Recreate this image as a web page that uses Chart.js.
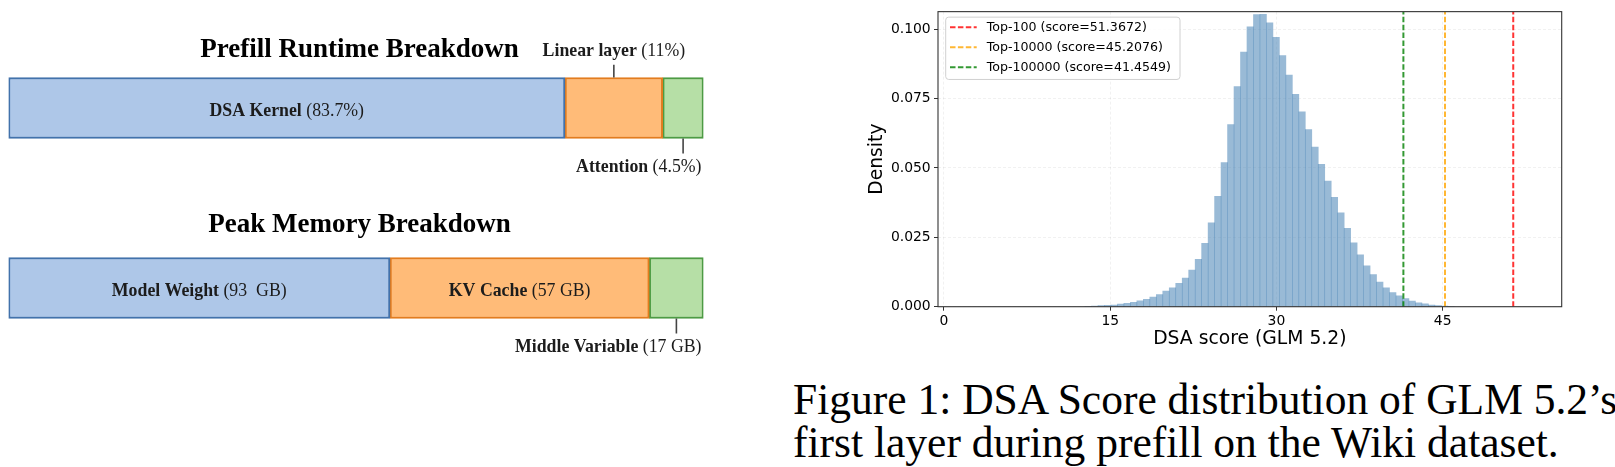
<!DOCTYPE html>
<html><head><meta charset="utf-8">
<script src="https://cdn.jsdelivr.net/npm/chart.js@4.4.1/dist/chart.umd.min.js"></script>
<style>
html,body{margin:0;padding:0;background:#fff;width:1615px;height:467px;overflow:hidden;}
#left{position:absolute;left:0;top:0;}
#hist{position:absolute;left:840px;top:0;}
#caption{position:absolute;left:793px;top:378px;font-family:"Liberation Serif","Times New Roman",serif;font-size:43.5px;line-height:43px;color:#000;white-space:nowrap;}
</style></head><body>
<canvas id="left" width="720" height="380" style="width:720px;height:380px"></canvas>
<canvas id="hist" width="760" height="360" style="width:760px;height:360px"></canvas>
<div id="caption">Figure 1: DSA Score distribution of GLM 5.2’s<br>first layer during prefill on the Wiki dataset.</div>
<script>
// ================= DATA =================
// Left: breakdown bars
const breakdownTitles = ['Prefill Runtime Breakdown', 'Peak Memory Breakdown'];
const breakdownRows = ['Prefill Runtime', 'Peak Memory'];
const segmentNames = [['DSA Kernel', 'Linear layer', 'Attention'], ['Model Weight', 'KV Cache', 'Middle Variable']];
const segmentValueText = [['(83.7%)', '(11%)', '(4.5%)'], ['(93  GB)', '(57 GB)', '(17 GB)']];
// share of each bar as drawn (% of bar length)
const firstSegShare = [80.07, 54.89];
const secondSegShare = [14.06, 37.31];
const thirdSegShare = [5.87, 7.80];

// Right: histogram of DSA scores
const binStart = 12.73;
const binWidth = 0.5845;
const density = [
  0.0001, 0.0002, 0.00037, 0.00048, 0.0006, 0.0009, 0.0012, 0.0016, 0.0021, 0.0027,
  0.0035, 0.0044, 0.0056, 0.0068, 0.0084, 0.0103, 0.0132, 0.0171, 0.0228, 0.0302,
  0.0398, 0.0519, 0.0656, 0.0793, 0.0917, 0.1008, 0.1052, 0.1053, 0.1023, 0.0970,
  0.0905, 0.0834, 0.0765, 0.0702, 0.0638, 0.0575, 0.0513, 0.0453, 0.0394, 0.0338,
  0.0282, 0.0230, 0.0187, 0.0147, 0.0116, 0.0089, 0.0068, 0.0051, 0.0039, 0.0029,
  0.0020, 0.0014, 0.0010, 0.0006, 0.0004, 0.0002, 0.0001
];
const thresholdLabels = ['Top-100 (score=51.3672)', 'Top-10000 (score=45.2076)', 'Top-100000 (score=41.4549)'];
const thresholdScores = [51.3672, 45.2076, 41.4549];
const xTicks = [0, 15, 30, 45];
const yTicks = [0, 0.025, 0.05, 0.075, 0.1];
const xLimits = [-0.54, 55.74];
const yLimits = [0, 0.1063];

// ================= STYLE =================
const serif = '"Liberation Serif","Times New Roman",serif';
const sans = '"DejaVu Sans", sans-serif';
const segFill = ['#aec7e8', '#ffbb78', '#b6dfa6'];
const segEdge = ['#4272ab', '#e27c1f', '#4d9b44'];
const thresholdColors = ['rgba(255,0,0,0.8)', 'rgba(255,165,0,0.8)', 'rgba(0,128,0,0.8)'];
// label placement per row/segment
const labelModes = [['inside', 'above', 'below'], ['inside', 'inside', 'below']];
const titleGap = [21, 26];

function drawMixed(ctx, bold, reg, x, y, align, size) {
  ctx.font = 'bold ' + size + 'px ' + serif;
  const wb = ctx.measureText(bold + ' ').width;
  ctx.font = size + 'px ' + serif;
  const wr = ctx.measureText(reg).width;
  const total = wb + wr;
  let sx = align === 'center' ? x - total / 2 : (align === 'right' ? x - total : x);
  ctx.textAlign = 'left';
  ctx.textBaseline = 'alphabetic';
  ctx.fillStyle = '#1c1c1c';
  ctx.font = 'bold ' + size + 'px ' + serif;
  ctx.fillText(bold + ' ', sx, y);
  ctx.font = size + 'px ' + serif;
  ctx.fillText(reg, sx + wb, y);
}

const breakdownLabels = {
  id: 'breakdownLabels',
  afterDatasetsDraw(chart) {
    const ctx = chart.ctx;
    const ca = chart.chartArea;
    ctx.save();
    for (let r = 0; r < breakdownRows.length; r++) {
      const first = chart.getDatasetMeta(0).data[r].getProps(['x', 'y', 'base', 'height'], true);
      const top = first.y - first.height / 2;
      const bottom = first.y + first.height / 2;
      ctx.font = 'bold 27px ' + serif;
      ctx.fillStyle = '#000';
      ctx.textAlign = 'center';
      ctx.textBaseline = 'alphabetic';
      ctx.fillText(breakdownTitles[r], (ca.left + ca.right) / 2 + 3.5, top - titleGap[r]);
      for (let s = 0; s < 3; s++) {
        const el = chart.getDatasetMeta(s).data[r].getProps(['x', 'y', 'base', 'height'], true);
        const cx = (el.x + el.base) / 2;
        const mode = labelModes[r][s];
        if (mode === 'inside') {
          drawMixed(ctx, segmentNames[r][s], segmentValueText[r][s], cx, el.y + 7.5, 'center', 17.8);
        } else if (mode === 'above') {
          ctx.strokeStyle = '#444'; ctx.lineWidth = 1.6; ctx.setLineDash([]);
          ctx.beginPath(); ctx.moveTo(cx, top - 12.7); ctx.lineTo(cx, top); ctx.stroke();
          drawMixed(ctx, segmentNames[r][s], segmentValueText[r][s], cx, top - 21.7, 'center', 17.8);
        } else {
          ctx.strokeStyle = '#444'; ctx.lineWidth = 1.6; ctx.setLineDash([]);
          ctx.beginPath(); ctx.moveTo(cx, bottom); ctx.lineTo(cx, bottom + 15); ctx.stroke();
          drawMixed(ctx, segmentNames[r][s], segmentValueText[r][s], ca.right - 2, bottom + 33, 'right', 17.8);
        }
      }
    }
    ctx.restore();
  }
};

new Chart(document.getElementById('left'), {
  type: 'bar',
  data: {
    labels: breakdownRows,
    datasets: [firstSegShare, secondSegShare, thirdSegShare].map((vals, i) => ({
      label: 'segment ' + (i + 1),
      data: vals,
      backgroundColor: segFill[i],
      borderColor: segEdge[i],
      borderWidth: 2,
      borderSkipped: false,
      barThickness: 61
    }))
  },
  options: {
    indexAxis: 'y',
    responsive: false,
    animation: false,
    devicePixelRatio: 1,
    layout: { padding: { left: 8.5, right: 16.5, top: 18, bottom: 2 } },
    plugins: { legend: { display: false }, tooltip: { enabled: false } },
    scales: {
      x: { stacked: true, min: 0, max: 100, display: false },
      y: { stacked: true, display: false }
    }
  },
  plugins: [breakdownLabels]
});

// ---------- histogram ----------
const framePlugin = {
  id: 'frame',
  afterDraw(chart) {
    const ctx = chart.ctx, ca = chart.chartArea;
    ctx.save();
    ctx.setLineDash([]);
    ctx.strokeStyle = '#333';
    ctx.lineWidth = 1.1;
    ctx.strokeRect(ca.left, ca.top, ca.right - ca.left, ca.bottom - ca.top);
    ctx.restore();
  }
};

const legendPlugin = {
  id: 'innerLegend',
  afterDraw(chart) {
    const ctx = chart.ctx, ca = chart.chartArea;
    const bx = ca.left + 7.7, by = ca.top + 5.5, bw = 234.3, bh = 62.3;
    ctx.save();
    ctx.setLineDash([]);
    ctx.fillStyle = 'rgba(255,255,255,0.8)';
    ctx.strokeStyle = '#d0d0d0';
    ctx.lineWidth = 1;
    ctx.beginPath();
    ctx.roundRect(bx, by, bw, bh, 3);
    ctx.fill();
    ctx.stroke();
    const lineDs = chart.data.datasets.filter(d => d.type === 'line');
    lineDs.forEach((d, i) => {
      const y = by + 10 + i * 20;
      ctx.strokeStyle = d.borderColor;
      ctx.lineWidth = d.borderWidth;
      ctx.setLineDash(d.borderDash);
      ctx.beginPath(); ctx.moveTo(bx + 4.3, y); ctx.lineTo(bx + 31, y); ctx.stroke();
      ctx.setLineDash([]);
      ctx.fillStyle = '#000';
      ctx.font = '12.6px ' + sans;
      ctx.textAlign = 'left';
      ctx.textBaseline = 'middle';
      ctx.fillText(d.label, bx + 41, y + 0.5);
    });
    ctx.restore();
  }
};

const histDatasets = [{
  type: 'bar',
  label: 'density',
  data: density.map((d, i) => ({ x: binStart + (i + 0.5) * binWidth, y: d })),
  backgroundColor: 'rgba(70,130,180,0.55)',
  borderWidth: 0,
  barPercentage: 1,
  categoryPercentage: 1,
  order: 2
}];
thresholdScores.forEach((s, i) => {
  histDatasets.push({
    type: 'line',
    label: thresholdLabels[i],
    data: [{ x: s, y: yLimits[0] }, { x: s, y: yLimits[1] }],
    borderColor: thresholdColors[i],
    borderWidth: 2,
    borderDash: [5.5, 2.4],
    pointRadius: 0,
    fill: false,
    order: 1
  });
});

new Chart(document.getElementById('hist'), {
  type: 'bar',
  data: { datasets: histDatasets },
  options: {
    responsive: false,
    animation: false,
    devicePixelRatio: 1,
    layout: { padding: { left: 0, top: 9.5, right: 38.3, bottom: 8.3 } },
    plugins: { legend: { display: false }, tooltip: { enabled: false } },
    scales: {
      x: {
        type: 'linear', min: xLimits[0], max: xLimits[1], offset: false,
        afterBuildTicks: s => { s.ticks = xTicks.map(v => ({ value: v })); },
        afterFit: s => { s.height = 45; },
        ticks: { font: { family: 'DejaVu Sans', size: 13.9 }, color: '#000', padding: 2, maxRotation: 0, autoSkip: false, callback: v => String(v) },
        grid: { offset: false, color: 'rgba(0,0,0,0.07)', lineWidth: 0.8, tickLength: 4, tickColor: '#333', tickWidth: 1 },
        border: { display: false, dash: [3, 2] },
        title: { display: true, text: 'DSA score (GLM 5.2)', font: { family: 'DejaVu Sans', size: 18.75 }, color: '#000', padding: { top: 0, bottom: 1.5 } }
      },
      y: {
        type: 'linear', min: yLimits[0], max: yLimits[1],
        afterBuildTicks: s => { s.ticks = yTicks.map(v => ({ value: v })); },
        afterFit: s => { s.width = 98; },
        ticks: { font: { family: 'DejaVu Sans', size: 13.9 }, color: '#000', padding: 3.3, autoSkip: false, callback: v => Number(v).toFixed(3) },
        grid: { color: 'rgba(0,0,0,0.07)', lineWidth: 0.8, tickLength: 4, tickColor: '#333', tickWidth: 1 },
        border: { display: false, dash: [3, 2] },
        title: { display: true, text: 'Density', font: { family: 'DejaVu Sans', size: 18.75 }, color: '#000', padding: { top: 25.5, bottom: 0 } }
      }
    }
  },
  plugins: [framePlugin, legendPlugin]
});
</script>
</body></html>
